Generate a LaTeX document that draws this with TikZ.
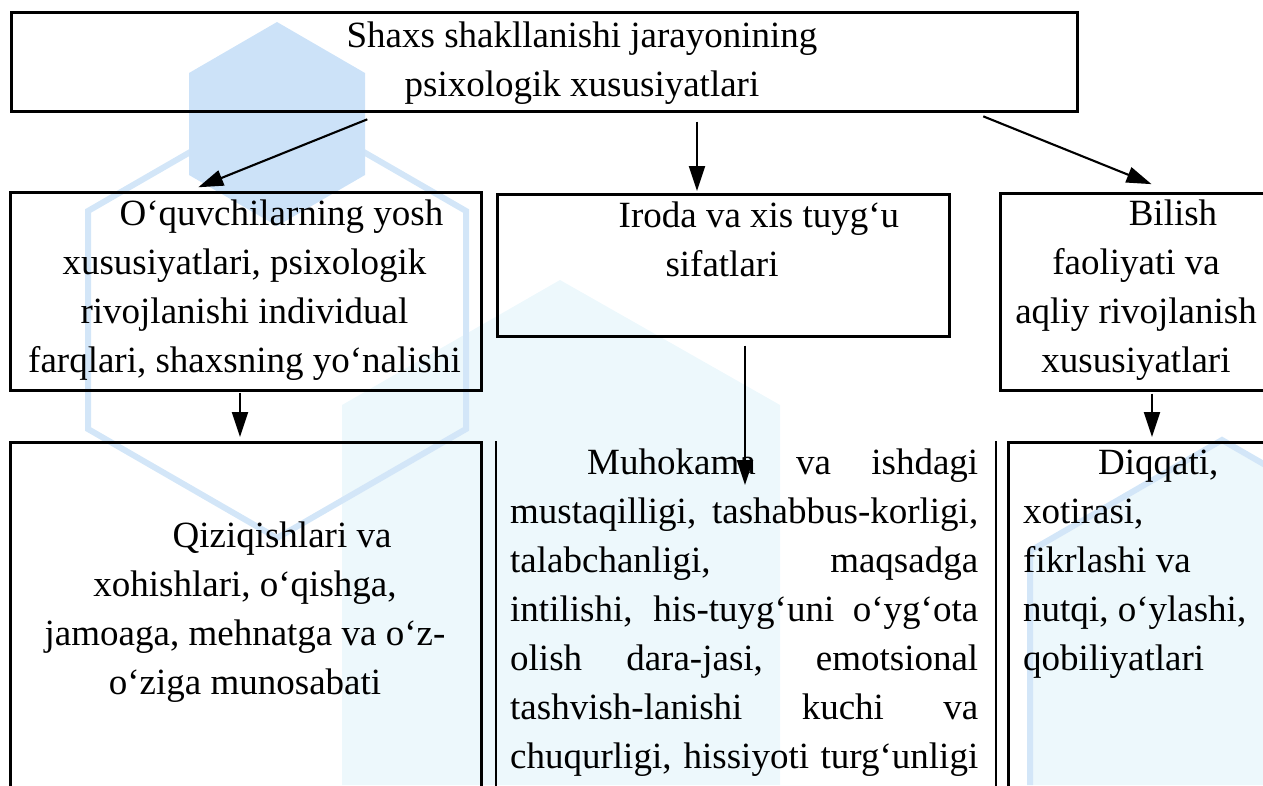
\documentclass[tikz,border=0pt]{standalone}
\usepackage{fontspec}
\setmainfont{Liberation Serif}
\usetikzlibrary{arrows.meta}
\definecolor{markblue}{HTML}{CCE2F8}
\definecolor{markline}{HTML}{D3E6F8}
\definecolor{markcyan}{HTML}{EDF8FC}
\newcommand{\firstindent}{\hspace*{74pt}}
\newcommand{\jline}[1]{\makebox[468pt][s]{#1}}

\begin{document}
\begin{tikzpicture}[x=1pt, y=-1pt,
  box/.style={draw, line width=2.6pt, inner sep=0pt, anchor=north west},
  txt/.style={font=\fontsize{37}{49}\selectfont, inner sep=0pt, anchor=north, align=center},
  arr/.style={-{Triangle[length=25pt,width=16pt]}, line width=2.1pt}]
\useasboundingbox (0,0) rectangle (1263,785);
\clip (0,0) rectangle (1263,785);
\fill[markcyan] (342,405) -- (560,280) -- (780,405) -- (780,785) -- (342,785) -- cycle;
\fill[markcyan] (1222,440) -- (1414,551) -- (1414,785) -- (1030,785) -- (1030,551) -- cycle;
\draw[markline, line width=6pt] (1030,785) -- (1030,551) -- (1222,440) -- (1300,485);
\draw[markline, line width=6pt] (277,102) -- (466,211) -- (466,429) -- (277,538) -- (88,429) -- (88,211) -- cycle;
\fill[markblue] (277,22) -- (365,73) -- (365,175) -- (277,226) -- (189,175) -- (189,73) -- cycle;

\node[box, minimum width=1066pt, minimum height=99pt] (top) at (10,11) {};
\node[box, minimum width=471pt, minimum height=198pt] (yosh) at (9,191) {};
\node[box, minimum width=452pt, minimum height=142pt] (iroda) at (496,193) {};
\node[box, minimum width=280pt, minimum height=197pt] (bilish) at (999,192) {};
\node[box, minimum width=471pt, minimum height=400pt] (qiziq) at (9,441) {};
\node[box, draw=none, minimum width=497pt, minimum height=400pt] (muh) at (496,441) {};
\node[box, minimum width=280pt, minimum height=400pt] (diqqat) at (1007,441) {};
\draw[line width=2.2pt] (muh.north west) -- (muh.south west) (muh.north east) -- (muh.south east);
\coordinate (mtip) at (745,485);

\node[txt] (topt) at (582,12.7) {\strut Shaxs shakllanishi jarayonining\\ psixologik xususiyatlari};
\node[txt] (yosht) at (244.5,190.7) {\strut\firstindent O‘quvchilarning yosh\\ xususiyatlari, psixologik\\ rivojlanishi individual\\ farqlari, shaxsning yo‘nalishi};
\node[txt] (irodat) at (722,192.7) {\strut\firstindent Iroda va xis tuyg‘u\\ sifatlari};
\node[txt] (bilisht) at (1136,190.7) {\strut\firstindent Bilish\\ faoliyati va\\ aqliy rivojlanish\\ xususiyatlari};
\node[txt] (qiziqt) at (245,512.7) {\strut\firstindent Qiziqishlari va\\ xohishlari, o‘qishga,\\ jamoaga, mehnatga va o‘z-\\ o‘ziga munosabati};
\node[txt, anchor=north west, align=left] (muht) at (510,439.7) {\jline{\strut\hspace{77pt}Muhokama va ishdagi}\\
  \jline{mustaqilligi, tashabbus-korligi,}\\
  \jline{talabchanligi, maqsadga}\\
  \jline{intilishi, his-tuyg‘uni o‘yg‘ota}\\
  \jline{olish dara-jasi, emotsional}\\
  \jline{tashvish-lanishi kuchi va}\\
  \jline{chuqurligi, hissiyoti turg‘unligi}};
\node[txt, anchor=north west, align=left] (diqqatt) at (1023,439.7) {\strut\hspace*{75pt}Diqqati,\\ xotirasi,\\ fikrlashi va\\ nutqi, o‘ylashi,\\ qobiliyatlari};

\draw[arr, shorten <=18pt, shorten >=10pt] (top.south -| 384,0) -- (yosh.north -| 189,0);
\draw[arr, shorten <=9pt, shorten >=2pt] (top.south -| 697,0) -- (iroda.north -| 697,0);
\draw[arr, shorten <=10pt, shorten >=21pt] (top.south -| 974,0) -- (bilish.north -| 1171,0);
\draw[arr, shorten <=1pt, shorten >=4pt] (yosh.south -| 240,0) -- (qiziq.north -| 240,0);
\draw[arr, shorten <=8pt] (iroda.south -| 745,0) -- (mtip);
\draw[arr, shorten <=2pt, shorten >=4pt] (bilish.south -| 1152,0) -- (diqqat.north -| 1152,0);
\end{tikzpicture}
\end{document}
